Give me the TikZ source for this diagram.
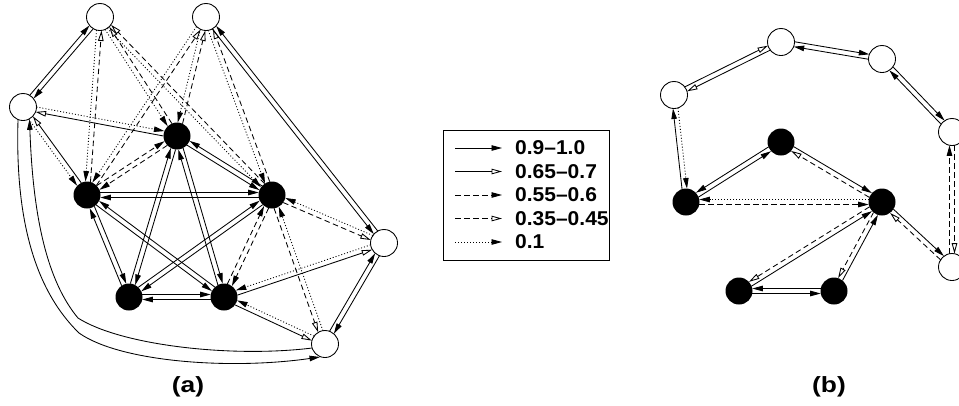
\documentclass[tikz,border=0pt]{standalone}
\usepackage{fontspec}
\setmainfont{Liberation Sans}
\usetikzlibrary{arrows.meta,calc}

% a pair of opposite arcs between two nodes, drawn side by side:
% #1 style of #3->#4, #2 style of #4->#3, #5 signed side offset
\newcommand\duo[5]{%
  \draw[gap,#1] ($(#3)!#5!90:(#4)$) -- ($(#4)!#5!-90:(#3)$);
  \draw[gap,#2] ($(#4)!#5!90:(#3)$) -- ($(#3)!#5!-90:(#4)$);}

\begin{document}
\begin{tikzpicture}[x=1pt,y=-1pt,
  wn/.style={circle,draw,line width=0.85pt,fill=white,minimum size=27pt,inner sep=0pt},
  bn/.style={circle,fill=black,minimum size=27pt,inner sep=0pt},
  e1/.style={line width=0.85pt,-{Triangle[length=10.5pt,width=5.5pt]}},
  e2/.style={line width=0.85pt,-{Triangle[open,length=10.5pt,width=5.5pt]}},
  e3/.style={e1,dash pattern=on 5.5pt off 3.5pt},
  e4/.style={e2,dash pattern=on 5.5pt off 3.5pt},
  e5/.style={e1,dash pattern=on 1pt off 2pt},
  gap/.style={shorten >=13.3pt,shorten <=13.3pt},
  key/.style={font=\fontsize{20}{24}\selectfont\bfseries,inner sep=0pt,anchor=west},
  sublabel/.style={font=\fontsize{22}{26}\selectfont\bfseries,inner sep=0pt}]
\useasboundingbox (0,0) rectangle (959,405);

% ---- graph (a) ----
\node[wn] (a1) at (100,17) {};
\node[wn] (a2) at (206,17) {};
\node[wn] (a3) at (23,107) {};
\node[wn] (a4) at (384,243) {};
\node[wn] (a5) at (325,344) {};
\node[bn] (b1) at (177,136) {};
\node[bn] (b2) at (87,195) {};
\node[bn] (b3) at (272,195) {};
\node[bn] (b4) at (129,297) {};
\node[bn] (b5) at (224,297) {};

\duo{e1}{e1}{a3}{a1}{2.5pt}
\duo{e1}{e1}{a2}{a4}{-2.5pt}
\duo{e1}{e1}{a5}{a4}{2.5pt}
\duo{e5}{e2}{a3}{b1}{2.5pt}
\duo{e5}{e2}{a3}{b2}{-2.5pt}
\duo{e5}{e4}{a1}{b2}{-2.5pt}
\duo{e5}{e4}{a1}{b1}{-2.5pt}
\duo{e5}{e4}{a1}{b3}{-2.5pt}
\duo{e5}{e4}{a2}{b2}{-2.5pt}
\duo{e5}{e4}{a2}{b1}{-2.5pt}
\duo{e5}{e4}{a2}{b3}{-2.5pt}
\duo{e3}{e3}{b2}{b1}{2.5pt}
\duo{e1}{e1}{b1}{b3}{-2.5pt}
\duo{e1}{e1}{b4}{b1}{2.5pt}
\duo{e1}{e1}{b5}{b1}{2.5pt}
\duo{e1}{e1}{b4}{b2}{2.5pt}
\duo{e1}{e1}{b2}{b3}{2.5pt}
\duo{e1}{e1}{b2}{b5}{-2.5pt}
\duo{e1}{e1}{b4}{b3}{2.5pt}
\duo{e1}{e1}{b4}{b5}{2.5pt}
\duo{e3}{e3}{b5}{b3}{2.5pt}
\duo{e5}{e4}{a4}{b3}{-2.5pt}
\duo{e5}{e2}{a4}{b5}{-2.5pt}
\duo{e4}{e5}{b3}{a5}{-2.5pt}
\duo{e5}{e2}{a5}{b5}{-2.5pt}

% the two long arcs round the lower left
\draw[e1] (a3.249) .. controls (15,220) and (35,290) .. (79,333)
          .. controls (120,362) and (230,370) .. (a5.249);
\draw[e1] (a5.197) .. controls (230,358) and (120,345) .. (78,318)
          .. controls (48,282) and (33,220) .. (a3.298);

\node[sublabel] (la) at (188,387) {\scalebox{1.2}[1]{(a)}};

% ---- key ----
\node[draw,line width=0.85pt,minimum width=166pt,minimum height=130pt,inner sep=0pt] (keybox) at (526,195.5) {};
\foreach \st/\txt [count=\i] in {e1/{0.9–1.0},e2/{0.65–0.7},e3/{0.55–0.6},e4/{0.35–0.45},e5/{0.1}} {
  \coordinate (k\i s) at (455,124.5+23.5*\i);
  \coordinate (k\i e) at (502,124.5+23.5*\i);
  \draw[\st] (k\i s) -- (k\i e);
  \node[key] (t\i) at (515,124.5+23.5*\i) {\scalebox{1.05}[1]{\txt}};
}

% ---- graph (b) ----
\node[wn] (c1) at (674,95) {};
\node[wn] (c2) at (781,42) {};
\node[wn] (c3) at (882,59) {};
\node[wn] (c4) at (952,132) {};
\node[wn] (c5) at (952,267) {};
\node[bn] (d1) at (781,142) {};
\node[bn] (d2) at (686,202) {};
\node[bn] (d3) at (882,202) {};
\node[bn] (d4) at (739,291) {};
\node[bn] (d5) at (834,291) {};

\duo{e2}{e2}{c1}{c2}{2.5pt}
\duo{e1}{e1}{c2}{c3}{2.5pt}
\duo{e1}{e1}{c3}{c4}{2.5pt}
\duo{e3}{e4}{c5}{c4}{2.5pt}
\duo{e1}{e5}{d2}{c1}{2.5pt}
\duo{e1}{e1}{d1}{d2}{-2.5pt}
\duo{e1}{e4}{d1}{d3}{2.5pt}
\duo{e5}{e3}{d3}{d2}{-2.5pt}
\duo{e1}{e4}{d4}{d3}{-2.5pt}
\duo{e1}{e4}{d5}{d3}{-2.5pt}
\duo{e1}{e1}{d4}{d5}{-2.5pt}
\duo{e1}{e4}{d3}{c5}{2.5pt}

\node[sublabel] (lb) at (829,387) {\scalebox{1.2}[1]{(b)}};
\end{tikzpicture}
\end{document}
